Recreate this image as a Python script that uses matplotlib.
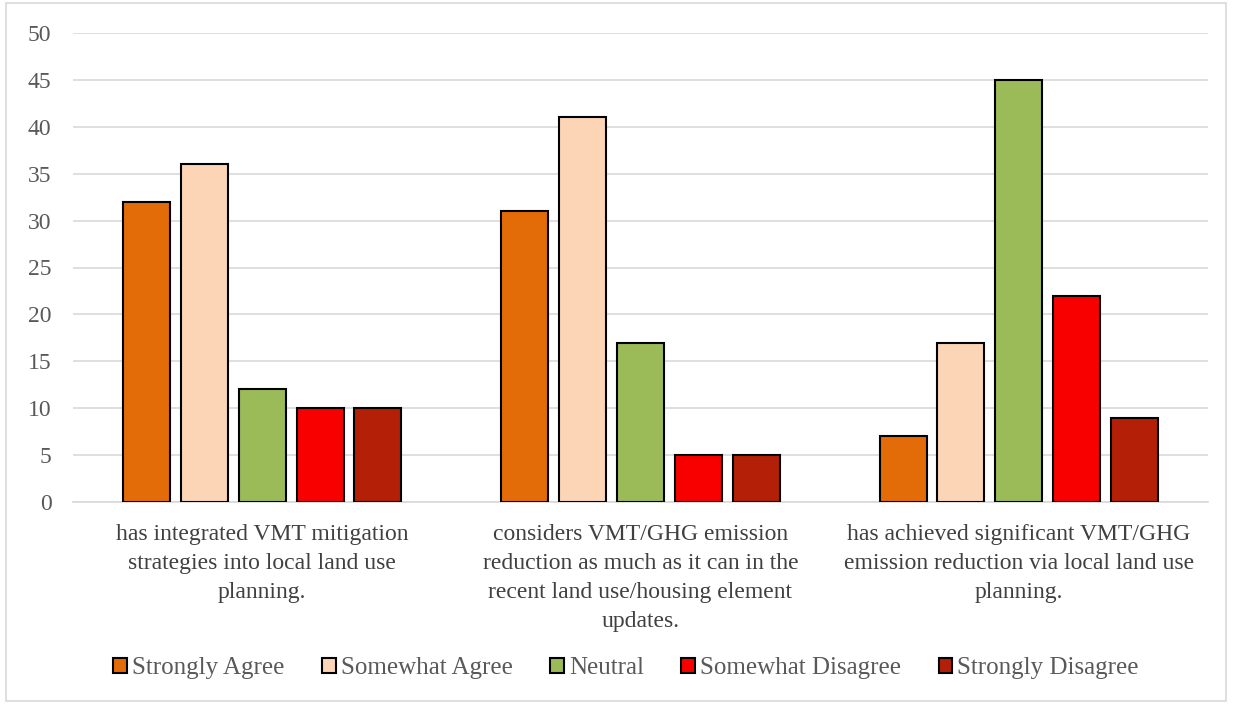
import numpy as np
import matplotlib.pyplot as plt
from matplotlib.patches import Rectangle

statements = [
    "has integrated VMT mitigation\nstrategies into local land use\nplanning.",
    "considers VMT/GHG emission\nreduction as much as it can in the\nrecent land use/housing element\nupdates.",
    "has achieved significant VMT/GHG\nemission reduction via local land use\nplanning.",
]
responses = ["Strongly Agree", "Somewhat Agree", "Neutral",
             "Somewhat Disagree", "Strongly Disagree"]
strongly_agree = [32, 31, 7]
somewhat_agree = [36, 41, 17]
neutral = [12, 17, 45]
somewhat_disagree = [10, 5, 22]
strongly_disagree = [10, 5, 9]
colors = ["#E36C09", "#FBD5B5", "#9BBB59", "#F80000", "#B41F07"]

series = [strongly_agree, somewhat_agree, neutral,
          somewhat_disagree, strongly_disagree]

plt.rcParams["font.family"] = ["Liberation Serif", "DejaVu Serif"]

fig = plt.figure(figsize=(12.33, 7.04), dpi=100)
ax = fig.add_axes([73 / 1233, 1 - 502 / 704, (1208 - 73) / 1233, (502 - 33) / 704])

# outer chart border
fig.patches.append(Rectangle((6 / 1233, 3 / 704), 1220 / 1233, 698 / 704,
                             transform=fig.transFigure, fill=False,
                             edgecolor="#D9D9D9", linewidth=1.2))

x = np.arange(len(statements))
width = 0.124
step = 0.153
for i, (vals, label, c) in enumerate(zip(series, responses, colors)):
    ax.bar(x + (i - 2) * step, vals, width, color=c, edgecolor="black",
           linewidth=1.5, label=label, zorder=3)

ax.set_xlim(-0.5, 2.5)
ax.set_ylim(0, 50)
ax.set_yticks(np.arange(0, 51, 5))
ax.grid(axis="y", color="#D9D9D9", linewidth=1.2, zorder=0)
for s in ["top", "right", "left"]:
    ax.spines[s].set_visible(False)
ax.spines["bottom"].set_color("#D9D9D9")
ax.spines["bottom"].set_linewidth(1.2)
ax.tick_params(axis="both", length=0, labelsize=17, labelcolor="#595959")
ax.tick_params(axis="y", pad=15.5)
ax.set_xticks(x)
ax.set_xticklabels(statements, fontsize=17, color="#404040", linespacing=1.52)
ax.tick_params(axis="x", pad=15.5)

fig.legend(loc="center", bbox_to_anchor=(626 / 1233, 1 - 668 / 704), ncol=5,
           frameon=False, fontsize=18, labelcolor="#595959",
           handlelength=0.55, handleheight=0.55, handletextpad=0.2,
           columnspacing=1.5)

fig.savefig("out.png", dpi=100)
